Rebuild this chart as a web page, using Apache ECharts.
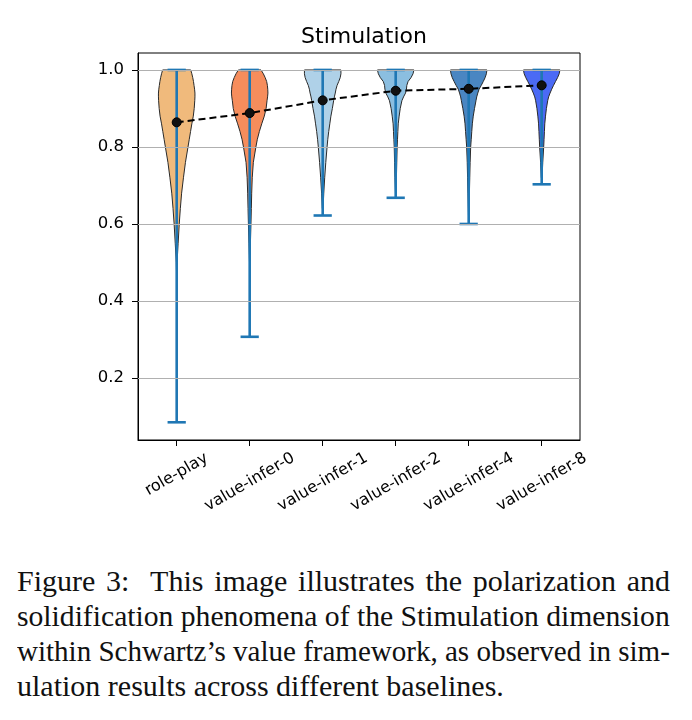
<!DOCTYPE html>
<html>
<head>
<meta charset="utf-8">
<script src="https://cdn.jsdelivr.net/npm/echarts@6/dist/echarts.min.js"></script>
<style>
  body { margin: 0; background: #fff; }
  #chart { position: absolute; left: 0; top: 0; width: 692px; height: 545px; }
  #caption { position: absolute; left: 17px; top: 563px; width: 653px;
    font-family: "Liberation Serif", serif; font-size: 30px; line-height: 35px; color: #111; }
  #caption div { white-space: nowrap; text-align: justify; text-align-last: justify; transform-origin: 0 50%; }
  #caption div.last { text-align-last: left; }
</style>
</head>
<body>
<div id="chart"></div>
<div id="caption">
  <div>Figure 3:&nbsp; This image illustrates the polarization and</div>
  <div>solidification phenomena of the Stimulation dimension</div>
  <div>within Schwartz’s value framework, as observed in sim-</div>
  <div class="last">ulation results across different baselines.</div>
</div>
<script>
// data
var categories = ['role-play', 'value-infer-0', 'value-infer-1', 'value-infer-2', 'value-infer-4', 'value-infer-8'];
var minValues = [0.085, 0.307, 0.622, 0.668, 0.600, 0.703];
var maxValues = [1.0, 1.0, 1.0, 1.0, 1.0, 1.0];
var meanValues = [0.864, 0.888, 0.921, 0.946, 0.951, 0.960];
var yTicks = [0.2, 0.4, 0.6, 0.8, 1.0];

// violin outline: relative half-width at each level (1 = widest)
var densityLevels = [1.00, 0.99, 0.98, 0.97, 0.96, 0.95, 0.94, 0.93, 0.92, 0.90, 0.88, 0.86, 0.84, 0.82, 0.80, 0.76, 0.72, 0.68, 0.64, 0.60, 0.55, 0.50, 0.45];
var densityRolePlay = [0.77, 0.83, 0.88, 0.92, 0.95, 0.98, 1.00, 1.00, 0.99, 0.96, 0.91, 0.83, 0.76, 0.69, 0.62, 0.48, 0.37, 0.27, 0.20, 0.14, 0.08, 0.02, 0];
var densityInfer0 = [0.62, 0.75, 0.85, 0.93, 0.97, 0.99, 1.00, 0.98, 0.95, 0.90, 0.80, 0.66, 0.53, 0.42, 0.34, 0.20, 0.14, 0.11, 0.09, 0.07, 0.04, 0.01, 0];
var densityInfer1 = [1.00, 1.00, 0.96, 0.88, 0.79, 0.73, 0.69, 0.64, 0.60, 0.53, 0.45, 0.39, 0.33, 0.28, 0.24, 0.17, 0.11, 0.06, 0.02, 0, 0, 0, 0];
var densityInfer2 = [1.00, 0.95, 0.84, 0.68, 0.61, 0.59, 0.54, 0.43, 0.34, 0.25, 0.19, 0.14, 0.12, 0.10, 0.08, 0.06, 0.04, 0.01, 0, 0, 0, 0, 0];
var densityInfer4 = [1.00, 0.97, 0.90, 0.80, 0.69, 0.57, 0.50, 0.44, 0.40, 0.32, 0.25, 0.20, 0.17, 0.14, 0.11, 0.08, 0.06, 0.04, 0.02, 0, 0, 0, 0];
var densityInfer8 = [1.00, 0.96, 0.87, 0.76, 0.65, 0.55, 0.46, 0.38, 0.33, 0.26, 0.21, 0.17, 0.15, 0.13, 0.11, 0.06, 0.02, 0, 0, 0, 0, 0, 0];
var densities = [densityRolePlay, densityInfer0, densityInfer1, densityInfer2, densityInfer4, densityInfer8];

var violinColors = ['#F0BA7C', '#F68D5C', '#AFD1E8', '#8BBEE0', '#4A86C2', '#4B6AF5'];

var violinData = categories.map(function (c, i) { return [i + 1, minValues[i], maxValues[i]]; });
var meanData = categories.map(function (c, i) { return [i + 1, meanValues[i]]; });
var catPos = categories.map(function (c, i) { return i + 1; });

var chart = echarts.init(document.getElementById('chart'));
var option = {
  animation: false,
  title: {
    text: 'Stimulation',
    left: 359,
    top: 21,
    textAlign: 'center',
    textStyle: { fontFamily: 'DejaVu Sans', fontSize: 22, fontWeight: 'normal', color: '#000' }
  },
  grid: {
    left: 138, top: 53, width: 442, height: 387,
    show: true, borderColor: '#000', borderWidth: 1
  },
  xAxis: {
    type: 'value',
    min: 0.47,
    max: 6.525,
    axisLine: { show: true, onZero: false, lineStyle: { color: '#000', width: 1 } },
    axisTick: { show: true, length: 6, customValues: catPos, lineStyle: { color: '#000', width: 1 } },
    axisLabel: { show: false },
    splitLine: { show: false }
  },
  yAxis: {
    type: 'value',
    min: 0.039,
    max: 1.044,
    axisLine: { show: true, onZero: false, lineStyle: { color: '#000', width: 1 } },
    axisTick: { show: true, length: 6, customValues: yTicks, lineStyle: { color: '#000', width: 1 } },
    axisLabel: {
      customValues: yTicks,
      formatter: function (v) { return v.toFixed(1); },
      fontFamily: 'DejaVu Sans', fontSize: 16.5, color: '#000', margin: 14
    },
    splitLine: { show: false }
  },
  series: [
    {
      // gridlines
      type: 'line',
      data: [],
      z: 1,
      silent: true,
      markLine: {
        silent: true,
        symbol: 'none',
        label: { show: false },
        lineStyle: { color: '#b0b0b0', width: 1, type: 'solid' },
        data: yTicks.map(function (v) { return { yAxis: v }; })
      }
    },
    {
      type: 'custom',
      z: 2,
      data: violinData,
      renderItem: function (params, api) {
        var i = params.dataIndex;
        var xPos = api.value(0);
        var lo = api.value(1), hi = api.value(2);
        var halfMax = api.size([1, 0])[0] * 0.25;
        var dens = densities[i];
        var right = [], left = [];
        for (var k = 0; k < densityLevels.length; k++) {
          var lv = densityLevels[k];
          if (lv > hi || lv < lo) continue;
          var p = api.coord([xPos, lv]);
          var w = dens[k] * halfMax;
          right.push([p[0] + w, p[1]]);
          left.unshift([p[0] - w, p[1]]);
          if (dens[k] === 0) break;
        }
        var pMin = api.coord([xPos, lo]);
        var pMax = api.coord([xPos, hi]);
        var cap = api.size([1, 0])[0] * 0.125;
        var lineStyle = { stroke: '#1f77b4', lineWidth: 2.6 };
        return {
          type: 'group',
          children: [
            { type: 'polygon', shape: { points: right.concat(left) },
              style: { fill: violinColors[i], stroke: '#2a2a2a', lineWidth: 1 } },
            { type: 'line', shape: { x1: pMin[0], y1: pMin[1], x2: pMax[0], y2: pMax[1] }, style: lineStyle },
            { type: 'line', shape: { x1: pMin[0] - cap, y1: pMin[1], x2: pMin[0] + cap, y2: pMin[1] }, style: lineStyle },
            { type: 'line', shape: { x1: pMax[0] - cap, y1: pMax[1], x2: pMax[0] + cap, y2: pMax[1] }, style: lineStyle }
          ]
        };
      }
    },
    {
      type: 'line',
      z: 5,
      data: meanData,
      symbol: 'circle',
      symbolSize: 9,
      lineStyle: { color: '#000', width: 2, type: [7, 4] },
      itemStyle: { color: '#111', borderColor: '#000', borderWidth: 1 }
    }
  ]
};
chart.setOption(option);

// rotated category labels, centred under each tick like matplotlib
var ctx = document.createElement('canvas').getContext('2d');
var labelFont = '16px "DejaVu Sans"';
ctx.font = labelFont;
var labelTop = 450;
var labels = categories.map(function (name, i) {
  var px = chart.convertToPixel({ xAxisIndex: 0 }, i + 1);
  var len = ctx.measureText(name).width;
  var cy = labelTop + 0.5 * (0.5 * len + 0.866 * 16);
  return {
    type: 'text', x: px, y: cy, rotation: Math.PI / 6,
    style: { text: name, x: 0, y: 0, align: 'center', verticalAlign: 'middle', font: labelFont, fill: '#000' }
  };
});
chart.setOption({ graphic: labels });

// squeeze caption lines that are wider than the column
var capW = 653;
Array.prototype.forEach.call(document.querySelectorAll('#caption div'), function (d) {
  if (d.scrollWidth > capW) d.style.transform = 'scaleX(' + (capW / d.scrollWidth) + ')';
});

window.addEventListener('resize', function () { chart.resize(); });
</script>
</body>
</html>
